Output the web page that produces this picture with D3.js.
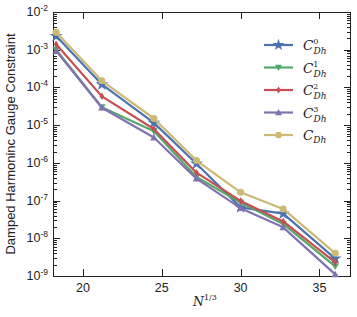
<!DOCTYPE html>
<html><head><meta charset="utf-8">
<script src="https://cdn.jsdelivr.net/npm/d3@7"></script>
<style>body{margin:0;background:#fff}svg{display:block}</style>
</head><body>
<script>
const xVals = [18.3, 21.2, 24.5, 27.2, 30.0, 32.7, 36.0];
const seriesNames = ["0", "1", "2", "3", ""];
const c0 = [2.3e-3, 1.2e-4, 1.15e-5, 9.5e-7, 6.6e-8, 4.5e-8, 2.9e-9];
const c1 = [1.0e-3, 3.0e-5, 6.9e-6, 4.2e-7, 8.9e-8, 2.4e-8, 1.8e-9];
const c2 = [1.4e-3, 5.8e-5, 7.9e-6, 5.5e-7, 9.8e-8, 2.8e-8, 2.3e-9];
const c3 = [9.3e-4, 2.9e-5, 4.7e-6, 3.8e-7, 6.3e-8, 1.95e-8, 1.1e-9];
const cAll = [2.9e-3, 1.5e-4, 1.5e-5, 1.15e-6, 1.66e-7, 6.0e-8, 4.0e-9];
const xTicks = [20, 25, 30, 35];
const yTickExps = [-2, -3, -4, -5, -6, -7, -8, -9];
const colors = ["#4C72B0", "#55A868", "#C44E52", "#8172B2", "#CCB974"];
const markers = ["star", "tridown", "thindiamond", "triup", "circle"];

const W = 357, H = 317;
const m = {l: 53, r: 6, t: 12, b: 41};
const svg = d3.select("body").append("svg").attr("width", W).attr("height", H);
const x = d3.scaleLinear().domain([18.1, 37.0]).range([m.l, W - m.r]);
const y = d3.scaleLog().domain([1e-9, 1e-2]).range([H - m.b, m.t]);
const font = "Liberation Sans, Arial, sans-serif";

const g = svg.append("g").attr("stroke", "#222").attr("stroke-width", 1);
xTicks.forEach(t => {
  const px = Math.round(x(t)) + 0.5;
  g.append("line").attr("x1", px).attr("x2", px).attr("y1", H - m.b).attr("y2", H - m.b - 7);
  g.append("line").attr("x1", px).attr("x2", px).attr("y1", m.t).attr("y2", m.t + 7);
  svg.append("text").attr("x", x(t)).attr("y", H - m.b + 16).attr("text-anchor", "middle")
    .attr("font-family", font).attr("font-size", 12.5).attr("fill", "#222").text(t);
});
yTickExps.forEach(e => {
  const py = Math.round(y(Math.pow(10, e))) + 0.5;
  g.append("line").attr("x1", m.l).attr("x2", m.l + 7).attr("y1", py).attr("y2", py);
  g.append("line").attr("x1", W - m.r).attr("x2", W - m.r - 7).attr("y1", py).attr("y2", py);
  const t = svg.append("text").attr("x", m.l - 5).attr("y", y(Math.pow(10, e)) + 4)
    .attr("text-anchor", "end").attr("font-family", font).attr("font-size", 12.5).attr("fill", "#222");
  t.append("tspan").text("10");
  t.append("tspan").attr("dy", -5).attr("font-size", 8.5).text(String(e));
  if (e > -9) {
    for (let k = 2; k <= 9; k++) {
      const v = k * Math.pow(10, e - 1);
      const pm = Math.round(y(v)) + 0.5;
      g.append("line").attr("x1", m.l).attr("x2", m.l + 4).attr("y1", pm).attr("y2", pm);
      g.append("line").attr("x1", W - m.r).attr("x2", W - m.r - 4).attr("y1", pm).attr("y2", pm);
    }
  }
});

svg.append("rect").attr("x", m.l + 0.5).attr("y", m.t + 0.5)
  .attr("width", W - m.r - m.l - 1).attr("height", H - m.b - m.t)
  .attr("fill", "none").attr("stroke", "#222").attr("stroke-width", 1);

function markerPath(type, s) {
  switch (type) {
    case "star": return d3.symbol(d3.symbolStar, s * s * 0.9)();
    case "tridown": return `M${-s/2},${-s/2.6}L${s/2},${-s/2.6}L0,${s/2}Z`;
    case "triup": return `M${-s/2},${s/2.6}L${s/2},${s/2.6}L0,${-s/2}Z`;
    case "thindiamond": return `M0,${-s/2}L${s/3.2},0L0,${s/2}L${-s/3.2},0Z`;
    case "circle": return d3.symbol(d3.symbolCircle, s * s * 0.7)();
  }
}

const allSeries = [c0, c1, c2, c3, cAll];
const line = d3.line().x((d, i) => x(xVals[i])).y(d => y(d));
const plot = svg.append("g");
allSeries.forEach((vals, si) => {
  plot.append("path").datum(vals).attr("d", line).attr("fill", "none")
    .attr("stroke", colors[si]).attr("stroke-width", 2.2).attr("stroke-linejoin", "round");
  plot.selectAll(null).data(vals).enter().append("path")
    .attr("transform", (d, i) => `translate(${x(xVals[i])},${y(d)})`)
    .attr("d", markerPath(markers[si], 7.5)).attr("fill", colors[si]);
});

const leg = svg.append("g");
const legY0 = 45, legDy = 22.5;
seriesNames.forEach((nm, i) => {
  const ly = legY0 + i * legDy;
  leg.append("line").attr("x1", 264).attr("x2", 293).attr("y1", ly).attr("y2", ly)
    .attr("stroke", colors[i]).attr("stroke-width", 2.2);
  leg.append("path").attr("transform", `translate(278.5,${ly})`)
    .attr("d", markerPath(markers[i], 7)).attr("fill", colors[i]);
  const t = leg.append("text").attr("x", 303).attr("y", ly + 5)
    .attr("font-family", "DejaVu Serif, serif").attr("font-style", "italic")
    .attr("font-size", 13.5).attr("fill", "#222");
  t.append("tspan").text("C");
  if (nm !== "") {
    t.append("tspan").attr("font-size", 8).attr("font-style", "normal").attr("dy", -6).text(nm);
    t.append("tspan").attr("font-size", 9).attr("dx", -5).attr("dy", 10).text("Dh");
  } else {
    t.append("tspan").attr("font-size", 9).attr("dy", 3).text("Dh");
  }
});

svg.append("text").attr("transform", `translate(15,${(m.t + H - m.b) / 2}) rotate(-90)`)
  .attr("text-anchor", "middle").attr("font-family", font).attr("font-size", 13)
  .attr("fill", "#222").text("Damped Harmoninc Gauge Constraint");
const xl = svg.append("text").attr("x", 205).attr("y", 306).attr("text-anchor", "middle")
  .attr("font-family", "DejaVu Serif, serif").attr("font-size", 12.5).attr("fill", "#222");
xl.append("tspan").attr("font-style", "italic").text("N");
xl.append("tspan").attr("font-size", 8).attr("dy", -6).text("1/3");
</script>
</body></html>
